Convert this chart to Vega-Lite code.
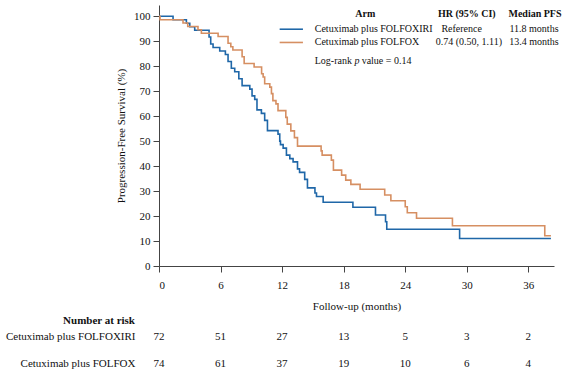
{
  "$schema": "https://vega.github.io/schema/vega-lite/v6.json",
  "background": "white",
  "padding": 5,
  "spacing": 4,
  "config": {
    "view": {"stroke": null},
    "font": "Liberation Serif",
    "axis": {"labelFont": "Liberation Serif", "titleFont": "Liberation Serif", "labelColor": "#111", "titleColor": "#111", "labelFontSize": 11, "titleFontSize": 11, "titleFontWeight": "normal", "domainColor": "#444", "tickColor": "#444", "grid": false, "labelOverlap": false},
    "style": {"guide-label": {"font": "Liberation Serif"}, "guide-title": {"font": "Liberation Serif"}, "group-title": {"font": "Liberation Serif"}},
    "title": {"font": "Liberation Serif"},
    "text": {"font": "Liberation Serif", "color": "#111"}
  },
  "datasets": {
    "one": [{}],
    "km": [
      {"arm": "Cetuximab plus FOLFOXIRI", "t": 0, "s": 100},
      {"arm": "Cetuximab plus FOLFOXIRI", "t": 1.37, "s": 98.6},
      {"arm": "Cetuximab plus FOLFOXIRI", "t": 2.67, "s": 97.2},
      {"arm": "Cetuximab plus FOLFOXIRI", "t": 3.0, "s": 95.8},
      {"arm": "Cetuximab plus FOLFOXIRI", "t": 3.48, "s": 94.4},
      {"arm": "Cetuximab plus FOLFOXIRI", "t": 4.88, "s": 91.7},
      {"arm": "Cetuximab plus FOLFOXIRI", "t": 5.04, "s": 88.9},
      {"arm": "Cetuximab plus FOLFOXIRI", "t": 5.27, "s": 87.5},
      {"arm": "Cetuximab plus FOLFOXIRI", "t": 5.92, "s": 86.1},
      {"arm": "Cetuximab plus FOLFOXIRI", "t": 6.47, "s": 84.7},
      {"arm": "Cetuximab plus FOLFOXIRI", "t": 6.73, "s": 81.9},
      {"arm": "Cetuximab plus FOLFOXIRI", "t": 7.05, "s": 79.2},
      {"arm": "Cetuximab plus FOLFOXIRI", "t": 7.38, "s": 77.8},
      {"arm": "Cetuximab plus FOLFOXIRI", "t": 7.78, "s": 75.0},
      {"arm": "Cetuximab plus FOLFOXIRI", "t": 8.1, "s": 72.2},
      {"arm": "Cetuximab plus FOLFOXIRI", "t": 8.85, "s": 70.8},
      {"arm": "Cetuximab plus FOLFOXIRI", "t": 9.07, "s": 68.1},
      {"arm": "Cetuximab plus FOLFOXIRI", "t": 9.33, "s": 66.7},
      {"arm": "Cetuximab plus FOLFOXIRI", "t": 9.55, "s": 62.5},
      {"arm": "Cetuximab plus FOLFOXIRI", "t": 9.98, "s": 61.1},
      {"arm": "Cetuximab plus FOLFOXIRI", "t": 10.3, "s": 58.3},
      {"arm": "Cetuximab plus FOLFOXIRI", "t": 10.57, "s": 54.2},
      {"arm": "Cetuximab plus FOLFOXIRI", "t": 11.6, "s": 52.8},
      {"arm": "Cetuximab plus FOLFOXIRI", "t": 11.77, "s": 50.0},
      {"arm": "Cetuximab plus FOLFOXIRI", "t": 11.84, "s": 48.6},
      {"arm": "Cetuximab plus FOLFOXIRI", "t": 12.1, "s": 47.2},
      {"arm": "Cetuximab plus FOLFOXIRI", "t": 12.42, "s": 44.4},
      {"arm": "Cetuximab plus FOLFOXIRI", "t": 12.75, "s": 43.0},
      {"arm": "Cetuximab plus FOLFOXIRI", "t": 13.07, "s": 41.7},
      {"arm": "Cetuximab plus FOLFOXIRI", "t": 13.5, "s": 38.9},
      {"arm": "Cetuximab plus FOLFOXIRI", "t": 13.7, "s": 37.5},
      {"arm": "Cetuximab plus FOLFOXIRI", "t": 14.2, "s": 34.7},
      {"arm": "Cetuximab plus FOLFOXIRI", "t": 14.47, "s": 31.3},
      {"arm": "Cetuximab plus FOLFOXIRI", "t": 15.2, "s": 29.2},
      {"arm": "Cetuximab plus FOLFOXIRI", "t": 15.35, "s": 27.8},
      {"arm": "Cetuximab plus FOLFOXIRI", "t": 16.0, "s": 25.5},
      {"arm": "Cetuximab plus FOLFOXIRI", "t": 18.9, "s": 23.5},
      {"arm": "Cetuximab plus FOLFOXIRI", "t": 21.1, "s": 20.4},
      {"arm": "Cetuximab plus FOLFOXIRI", "t": 22.08, "s": 17.7},
      {"arm": "Cetuximab plus FOLFOXIRI", "t": 22.2, "s": 14.7},
      {"arm": "Cetuximab plus FOLFOXIRI", "t": 29.3, "s": 11.0},
      {"arm": "Cetuximab plus FOLFOXIRI", "t": 38.2, "s": 11.0},
      {"arm": "Cetuximab plus FOLFOX", "t": 0, "s": 100},
      {"arm": "Cetuximab plus FOLFOX", "t": 0.1, "s": 98.6},
      {"arm": "Cetuximab plus FOLFOX", "t": 2.34, "s": 97.3},
      {"arm": "Cetuximab plus FOLFOX", "t": 2.8, "s": 95.9},
      {"arm": "Cetuximab plus FOLFOX", "t": 3.8, "s": 94.6},
      {"arm": "Cetuximab plus FOLFOX", "t": 4.13, "s": 93.2},
      {"arm": "Cetuximab plus FOLFOX", "t": 5.76, "s": 91.9},
      {"arm": "Cetuximab plus FOLFOX", "t": 6.73, "s": 89.2},
      {"arm": "Cetuximab plus FOLFOX", "t": 7.0, "s": 87.8},
      {"arm": "Cetuximab plus FOLFOX", "t": 7.2, "s": 86.5},
      {"arm": "Cetuximab plus FOLFOX", "t": 8.1, "s": 83.8},
      {"arm": "Cetuximab plus FOLFOX", "t": 8.3, "s": 81.1},
      {"arm": "Cetuximab plus FOLFOX", "t": 9.27, "s": 79.7},
      {"arm": "Cetuximab plus FOLFOX", "t": 10.0, "s": 77.0},
      {"arm": "Cetuximab plus FOLFOX", "t": 10.15, "s": 75.7},
      {"arm": "Cetuximab plus FOLFOX", "t": 10.3, "s": 73.0},
      {"arm": "Cetuximab plus FOLFOX", "t": 10.8, "s": 71.6},
      {"arm": "Cetuximab plus FOLFOX", "t": 10.96, "s": 69.0},
      {"arm": "Cetuximab plus FOLFOX", "t": 11.1, "s": 66.2},
      {"arm": "Cetuximab plus FOLFOX", "t": 11.4, "s": 64.9},
      {"arm": "Cetuximab plus FOLFOX", "t": 11.6, "s": 62.2},
      {"arm": "Cetuximab plus FOLFOX", "t": 12.36, "s": 59.5},
      {"arm": "Cetuximab plus FOLFOX", "t": 12.5, "s": 56.8},
      {"arm": "Cetuximab plus FOLFOX", "t": 12.85, "s": 54.1},
      {"arm": "Cetuximab plus FOLFOX", "t": 13.2, "s": 51.4},
      {"arm": "Cetuximab plus FOLFOX", "t": 13.5, "s": 48.0},
      {"arm": "Cetuximab plus FOLFOX", "t": 15.8, "s": 46.1},
      {"arm": "Cetuximab plus FOLFOX", "t": 15.9, "s": 44.4},
      {"arm": "Cetuximab plus FOLFOX", "t": 16.8, "s": 42.4},
      {"arm": "Cetuximab plus FOLFOX", "t": 17.0, "s": 38.4},
      {"arm": "Cetuximab plus FOLFOX", "t": 17.8, "s": 36.4},
      {"arm": "Cetuximab plus FOLFOX", "t": 18.2, "s": 34.4},
      {"arm": "Cetuximab plus FOLFOX", "t": 18.7, "s": 32.7},
      {"arm": "Cetuximab plus FOLFOX", "t": 19.6, "s": 30.7},
      {"arm": "Cetuximab plus FOLFOX", "t": 22.0, "s": 28.4},
      {"arm": "Cetuximab plus FOLFOX", "t": 22.6, "s": 26.1},
      {"arm": "Cetuximab plus FOLFOX", "t": 24.0, "s": 23.7},
      {"arm": "Cetuximab plus FOLFOX", "t": 24.2, "s": 21.3},
      {"arm": "Cetuximab plus FOLFOX", "t": 25.1, "s": 19.1},
      {"arm": "Cetuximab plus FOLFOX", "t": 28.6, "s": 16.1},
      {"arm": "Cetuximab plus FOLFOX", "t": 37.6, "s": 12.1},
      {"arm": "Cetuximab plus FOLFOX", "t": 38.2, "s": 12.1}
    ],
    "risk": [
      {"arm": "Cetuximab plus FOLFOXIRI", "t": 0, "n": 72},
      {"arm": "Cetuximab plus FOLFOXIRI", "t": 6, "n": 51},
      {"arm": "Cetuximab plus FOLFOXIRI", "t": 12, "n": 27},
      {"arm": "Cetuximab plus FOLFOXIRI", "t": 18, "n": 13},
      {"arm": "Cetuximab plus FOLFOXIRI", "t": 24, "n": 5},
      {"arm": "Cetuximab plus FOLFOXIRI", "t": 30, "n": 3},
      {"arm": "Cetuximab plus FOLFOXIRI", "t": 36, "n": 2},
      {"arm": "Cetuximab plus FOLFOX", "t": 0, "n": 74},
      {"arm": "Cetuximab plus FOLFOX", "t": 6, "n": 61},
      {"arm": "Cetuximab plus FOLFOX", "t": 12, "n": 37},
      {"arm": "Cetuximab plus FOLFOX", "t": 18, "n": 19},
      {"arm": "Cetuximab plus FOLFOX", "t": 24, "n": 10},
      {"arm": "Cetuximab plus FOLFOX", "t": 30, "n": 6},
      {"arm": "Cetuximab plus FOLFOX", "t": 36, "n": 4}
    ]
  },
  "vconcat": [
    {
      "width": 395,
      "height": 261,
      "encoding": {
        "x": {"type": "quantitative", "scale": {"domain": [0, 38.5], "nice": false},
          "axis": {"values": [0, 6, 12, 18, 24, 30, 36], "title": "Follow-up (months)", "tickSize": 6, "labelPadding": 7, "titlePadding": 10, "labelFont": "Liberation Serif", "titleFont": "Liberation Serif", "labelOverlap": false}},
        "y": {"type": "quantitative", "scale": {"domain": [0, 104.5], "nice": false},
          "axis": {"values": [0, 10, 20, 30, 40, 50, 60, 70, 80, 90, 100], "title": "Progression-Free Survival (%)", "tickSize": 6, "labelPadding": 3, "titlePadding": 7, "labelFont": "Liberation Serif", "titleFont": "Liberation Serif", "labelOverlap": false}}
      },
      "layer": [
        {
          "data": {"name": "km"},
          "mark": {"type": "line", "interpolate": "step-after", "strokeWidth": 1.6},
          "encoding": {
            "x": {"field": "t", "type": "quantitative"},
            "y": {"field": "s", "type": "quantitative"},
            "color": {"field": "arm", "type": "nominal", "scale": {"domain": ["Cetuximab plus FOLFOXIRI", "Cetuximab plus FOLFOX"], "range": ["#1f67a8", "#d68f62"]}, "legend": null},
            "order": {"field": "t", "type": "quantitative"}
          }
        },
        {
          "data": {"name": "one"},
          "mark": {"type": "rule", "color": "#1f67a8", "strokeWidth": 1.6},
          "encoding": {"x": {"datum": 11.76}, "x2": {"datum": 14.03}, "y": {"datum": 94.8}}
        },
        {
          "data": {"name": "one"},
          "mark": {"type": "rule", "color": "#d68f62", "strokeWidth": 1.6},
          "encoding": {"x": {"datum": 11.76}, "x2": {"datum": 14.03}, "y": {"datum": 89.5}}
        },
        {
          "data": {"name": "one"},
          "mark": {"type": "text", "text": "Arm", "fontWeight": "bold", "fontSize": 10, "align": "center", "baseline": "middle"},
          "encoding": {"x": {"datum": 20.1}, "y": {"datum": 100.8}}
        },
        {
          "data": {"name": "one"},
          "mark": {"type": "text", "text": "HR (95% CI)", "fontWeight": "bold", "fontSize": 10, "align": "center", "baseline": "middle"},
          "encoding": {"x": {"datum": 30.0}, "y": {"datum": 100.8}}
        },
        {
          "data": {"name": "one"},
          "mark": {"type": "text", "text": "Median PFS", "fontWeight": "bold", "fontSize": 10, "align": "center", "baseline": "middle"},
          "encoding": {"x": {"datum": 36.65}, "y": {"datum": 100.8}}
        },
        {
          "data": {"name": "one"},
          "mark": {"type": "text", "text": "Cetuximab plus FOLFOXIRI", "fontSize": 10, "align": "left", "baseline": "middle"},
          "encoding": {"x": {"datum": 15.18}, "y": {"datum": 94.8}}
        },
        {
          "data": {"name": "one"},
          "mark": {"type": "text", "text": "Cetuximab plus FOLFOX", "fontSize": 10, "align": "left", "baseline": "middle"},
          "encoding": {"x": {"datum": 15.18}, "y": {"datum": 89.5}}
        },
        {
          "data": {"name": "one"},
          "mark": {"type": "text", "text": "Reference", "fontSize": 10, "align": "center", "baseline": "middle"},
          "encoding": {"x": {"datum": 29.5}, "y": {"datum": 94.8}}
        },
        {
          "data": {"name": "one"},
          "mark": {"type": "text", "text": "0.74 (0.50, 1.11)", "fontSize": 10, "align": "center", "baseline": "middle"},
          "encoding": {"x": {"datum": 30.2}, "y": {"datum": 89.5}}
        },
        {
          "data": {"name": "one"},
          "mark": {"type": "text", "text": "11.8 months", "fontSize": 10, "align": "center", "baseline": "middle"},
          "encoding": {"x": {"datum": 36.55}, "y": {"datum": 94.8}}
        },
        {
          "data": {"name": "one"},
          "mark": {"type": "text", "text": "13.4 months", "fontSize": 10, "align": "center", "baseline": "middle"},
          "encoding": {"x": {"datum": 36.55}, "y": {"datum": 89.5}}
        },
        {
          "data": {"name": "one"},
          "mark": {"type": "text", "text": "Log-rank", "fontSize": 10, "align": "left", "baseline": "middle"},
          "encoding": {"x": {"datum": 15.18}, "y": {"datum": 82.0}}
        },
        {
          "data": {"name": "one"},
          "mark": {"type": "text", "text": "p", "fontSize": 10, "fontStyle": "italic", "align": "left", "baseline": "middle"},
          "encoding": {"x": {"datum": 19.05}, "y": {"datum": 82.0}}
        },
        {
          "data": {"name": "one"},
          "mark": {"type": "text", "text": "value = 0.14", "fontSize": 10, "align": "left", "baseline": "middle"},
          "encoding": {"x": {"datum": 19.75}, "y": {"datum": 82.0}}
        }
      ]
    },
    {
      "width": 395,
      "height": 54,
      "data": {"name": "risk"},
      "title": {"text": "Number at risk", "font": "Liberation Serif", "fontSize": 11, "fontWeight": "bold", "anchor": "start", "frame": "group", "align": "right", "dx": -24, "offset": -3, "color": "#111"},
      "mark": {"type": "text", "fontSize": 11, "baseline": "middle"},
      "encoding": {
        "x": {"field": "t", "type": "quantitative", "scale": {"domain": [0, 38.5], "nice": false}, "axis": null},
        "y": {"field": "arm", "type": "nominal", "sort": ["Cetuximab plus FOLFOXIRI", "Cetuximab plus FOLFOX"], "title": null,
          "axis": {"domain": false, "ticks": false, "labelPadding": 24, "labelFontSize": 11, "labelColor": "#111", "labelFont": "Liberation Serif"}},
        "text": {"field": "n", "type": "quantitative"}
      }
    }
  ]
}
